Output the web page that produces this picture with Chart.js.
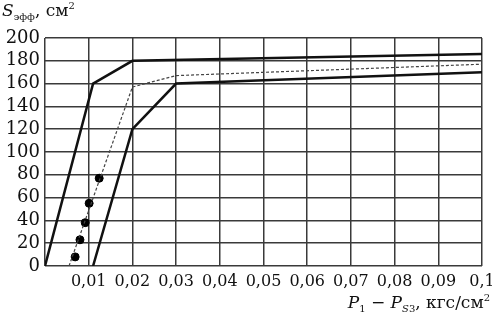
<!DOCTYPE html>
<html>
<head>
<meta charset="utf-8">
<script src="https://cdn.jsdelivr.net/npm/chart.js@4"></script>
<style>
    html, body { margin: 0; padding: 0; background: #fff; }
    #wrap { position: relative; width: 492px; height: 318px; }
    .lbl { position: absolute; font-family: "DejaVu Serif", serif; color: #111; white-space: nowrap; }
    .lbl i { font-style: italic; }
    .lbl sub { font-size: 10px; vertical-align: -4px; }
    .lbl sup { font-size: 10px; vertical-align: 7px; }
</style>
</head>
<body>
<div id="wrap">
    <canvas id="chart" width="492" height="318"></canvas>
    <div class="lbl" style="left:2px; top:0px; font-size:17px;"><i>S</i><sub>эфф</sub>, см<sup>2</sup></div>
    <div class="lbl" style="right:2px; top:292px; font-size:17px;"><i>P</i><sub>1</sub> − <i>P</i><sub><i>S</i>3</sub>, кгс/см<sup>2</sup></div>
</div>
<script>
// upper bound curve
const upperX = [0, 0.011, 0.02, 0.1];
const upperY = [0, 160, 180, 186];
// lower bound curve
const lowerX = [0.011, 0.02, 0.03, 0.1];
const lowerY = [0, 120, 160, 170];
// middle (dashed) curve
const meanX = [0.0055, 0.02, 0.03, 0.1];
const meanY = [0, 157, 167, 177];
// measured points
const dotX = [0.0069, 0.008, 0.0092, 0.0101, 0.0124];
const dotY = [8, 23, 38, 55, 77];

const xMin = 0, xMax = 0.1, xStep = 0.01;
const yMin = 0, yMax = 200, yStep = 20;

const toPoints = (xs, ys) => xs.map((x, i) => ({ x: x, y: ys[i] }));

const ctx = document.getElementById('chart').getContext('2d');
new Chart(ctx, {
    type: 'scatter',
    data: {
        datasets: [
            {
                data: toPoints(upperX, upperY),
                showLine: true,
                borderColor: '#111',
                borderWidth: 2.5,
                pointRadius: 0
            },
            {
                data: toPoints(lowerX, lowerY),
                showLine: true,
                borderColor: '#111',
                borderWidth: 2.5,
                pointRadius: 0
            },
            {
                data: toPoints(meanX, meanY),
                showLine: true,
                borderColor: '#444',
                borderWidth: 1.2,
                borderDash: [3, 2],
                pointRadius: 0
            },
            {
                data: toPoints(dotX, dotY),
                showLine: false,
                backgroundColor: '#000',
                borderColor: '#000',
                pointRadius: 4
            }
        ]
    },
    options: {
        responsive: false,
        animation: false,
        layout: { padding: { top: 38, right: 10, left: 0, bottom: 0 } },
        plugins: {
            legend: { display: false },
            tooltip: { enabled: false }
        },
        scales: {
            x: {
                type: 'linear',
                min: xMin,
                max: xMax,
                border: { display: false },
                grid: { color: '#3a3a3a', lineWidth: 1.5, drawTicks: false },
                ticks: {
                    stepSize: xStep,
                    padding: 6,
                    color: '#111',
                    maxRotation: 0,
                    autoSkip: false,
                    font: { family: 'DejaVu Serif', size: 16 },
                    callback: v => v === 0 ? '' : String(Math.round(v * 100) / 100).replace('.', ',')
                },
                afterFit: s => { s.height = 52; s.paddingLeft = 0; s.paddingRight = 0; }
            },
            y: {
                type: 'linear',
                min: yMin,
                max: yMax,
                border: { display: false },
                grid: { color: '#3a3a3a', lineWidth: 1.5, drawTicks: false },
                ticks: {
                    stepSize: yStep,
                    padding: 5,
                    color: '#111',
                    autoSkip: false,
                    font: { family: 'DejaVu Serif', size: 18 }
                },
                afterFit: s => { s.width = 45; s.paddingTop = 0; s.paddingBottom = 0; }
            }
        }
    }
});
</script>
</body>
</html>
